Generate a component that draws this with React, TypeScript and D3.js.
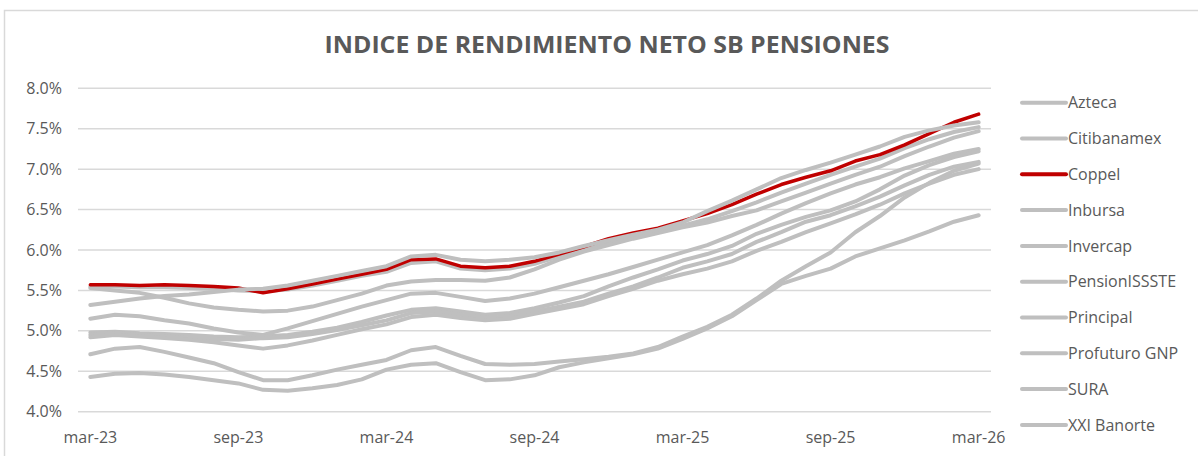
import React from 'react';
import * as d3 from 'd3';

// monthly, mar-23 .. mar-26
const months = [
  'mar-23', 'abr-23', 'may-23', 'jun-23', 'jul-23', 'ago-23', 'sep-23', 'oct-23', 'nov-23', 'dic-23', 'ene-24', 'feb-24',
  'mar-24', 'abr-24', 'may-24', 'jun-24', 'jul-24', 'ago-24', 'sep-24', 'oct-24', 'nov-24', 'dic-24', 'ene-25', 'feb-25',
  'mar-25', 'abr-25', 'may-25', 'jun-25', 'jul-25', 'ago-25', 'sep-25', 'oct-25', 'nov-25', 'dic-25', 'ene-26', 'feb-26',
  'mar-26',
];

const azteca = [5.55, 5.55, 5.54, 5.54, 5.53, 5.52, 5.50, 5.49, 5.51, 5.56, 5.62, 5.68, 5.73, 5.84, 5.86, 5.77, 5.75, 5.77, 5.83, 5.92, 6.01, 6.09, 6.17, 6.23, 6.30, 6.38, 6.48, 6.59, 6.71, 6.82, 6.93, 7.03, 7.13, 7.26, 7.37, 7.46, 7.52];
const citibanamex = [5.53, 5.50, 5.47, 5.41, 5.34, 5.29, 5.26, 5.24, 5.25, 5.30, 5.38, 5.46, 5.56, 5.61, 5.63, 5.63, 5.62, 5.66, 5.76, 5.88, 5.98, 6.06, 6.14, 6.21, 6.28, 6.34, 6.42, 6.49, 6.60, 6.71, 6.82, 6.93, 7.03, 7.16, 7.28, 7.39, 7.47];
const coppel = [5.57, 5.57, 5.56, 5.57, 5.56, 5.55, 5.53, 5.47, 5.52, 5.58, 5.64, 5.70, 5.76, 5.88, 5.89, 5.80, 5.78, 5.80, 5.86, 5.95, 6.04, 6.14, 6.21, 6.27, 6.36, 6.45, 6.56, 6.69, 6.81, 6.90, 6.98, 7.10, 7.18, 7.30, 7.44, 7.58, 7.68];
const inbursa = [5.32, 5.36, 5.40, 5.43, 5.45, 5.48, 5.51, 5.52, 5.56, 5.62, 5.68, 5.74, 5.80, 5.92, 5.94, 5.88, 5.86, 5.88, 5.91, 5.97, 6.05, 6.12, 6.19, 6.25, 6.34, 6.48, 6.61, 6.75, 6.89, 6.99, 7.08, 7.18, 7.28, 7.40, 7.48, 7.54, 7.58];
const invercap = [5.15, 5.20, 5.18, 5.13, 5.09, 5.03, 4.98, 4.95, 5.03, 5.12, 5.21, 5.30, 5.38, 5.46, 5.47, 5.42, 5.37, 5.40, 5.46, 5.54, 5.62, 5.70, 5.79, 5.88, 5.97, 6.06, 6.18, 6.31, 6.45, 6.58, 6.70, 6.81, 6.90, 7.01, 7.10, 7.19, 7.25];
const pensionIssste = [4.98, 4.99, 4.97, 4.96, 4.95, 4.93, 4.92, 4.93, 4.95, 4.99, 5.04, 5.11, 5.19, 5.26, 5.28, 5.24, 5.20, 5.22, 5.28, 5.35, 5.43, 5.55, 5.66, 5.76, 5.87, 5.95, 6.05, 6.20, 6.31, 6.41, 6.49, 6.60, 6.75, 6.92, 7.05, 7.15, 7.22];
const principal = [4.71, 4.78, 4.80, 4.74, 4.67, 4.60, 4.49, 4.39, 4.39, 4.45, 4.52, 4.58, 4.64, 4.76, 4.80, 4.69, 4.59, 4.58, 4.59, 4.62, 4.65, 4.68, 4.72, 4.80, 4.93, 5.05, 5.20, 5.40, 5.62, 5.80, 5.97, 6.22, 6.42, 6.65, 6.83, 6.98, 7.07];
const profuturo = [4.95, 4.97, 4.95, 4.93, 4.91, 4.90, 4.89, 4.91, 4.92, 4.96, 5.01, 5.07, 5.13, 5.22, 5.24, 5.20, 5.16, 5.18, 5.24, 5.30, 5.36, 5.46, 5.55, 5.66, 5.78, 5.86, 5.95, 6.10, 6.22, 6.35, 6.43, 6.54, 6.66, 6.80, 6.93, 7.03, 7.09];
const sura = [4.92, 4.95, 4.93, 4.91, 4.89, 4.86, 4.82, 4.78, 4.82, 4.88, 4.95, 5.02, 5.08, 5.17, 5.20, 5.16, 5.13, 5.15, 5.21, 5.27, 5.33, 5.43, 5.52, 5.62, 5.70, 5.77, 5.86, 5.99, 6.10, 6.22, 6.33, 6.44, 6.56, 6.70, 6.82, 6.93, 7.00];
const xxiBanorte = [4.43, 4.47, 4.48, 4.46, 4.43, 4.39, 4.35, 4.27, 4.26, 4.29, 4.33, 4.40, 4.52, 4.58, 4.60, 4.49, 4.39, 4.40, 4.45, 4.55, 4.61, 4.66, 4.71, 4.78, 4.90, 5.03, 5.18, 5.38, 5.58, 5.68, 5.77, 5.92, 6.02, 6.12, 6.23, 6.35, 6.43];

const names = ['Azteca', 'Citibanamex', 'Coppel', 'Inbursa', 'Invercap', 'PensionISSSTE', 'Principal', 'Profuturo GNP', 'SURA', 'XXI Banorte'];
const values = [azteca, citibanamex, coppel, inbursa, invercap, pensionIssste, principal, profuturo, sura, xxiBanorte];
const yTicks = [4.0, 4.5, 5.0, 5.5, 6.0, 6.5, 7.0, 7.5, 8.0];
const xLabels = ['mar-23', 'sep-23', 'mar-24', 'sep-24', 'mar-25', 'sep-25', 'mar-26'];

const W = 1198;
const H = 456;
const plot = { left: 78, right: 991, top: 88.3, bottom: 411.7 };
const textColor = '#595959';
const font = "'Open Sans', 'Noto Sans', sans-serif";

export default function App() {
  const x = d3.scalePoint<string>().domain(months).range([plot.left, plot.right]).padding(0.5);
  const y = d3.scaleLinear().domain([4, 8]).range([plot.bottom, plot.top]);
  const line = d3.line<number>()
    .x((d, i) => x(months[i]) as number)
    .y((d) => y(d));

  return (
    <svg width={W} height={H} style={{ position: 'absolute', left: 0, top: 0, display: 'block' }}>
      <rect x={0} y={0} width={W} height={H} fill="#fff" />
      <rect x={4.5} y={10.5} width={W + 20} height={H + 20} fill="none" stroke="#d9d9d9" strokeWidth={1.5} />

      <text x={607} y={53} textAnchor="middle" fontFamily={font} fontWeight="bold" fontSize={24}
        fill={textColor} textLength={565} lengthAdjust="spacingAndGlyphs">
        INDICE DE RENDIMIENTO NETO SB PENSIONES
      </text>

      {yTicks.map((t) => (
        <g key={t}>
          <line x1={plot.left} x2={plot.right} y1={y(t)} y2={y(t)} stroke="#d9d9d9" strokeWidth={1.5} />
          <text x={62} y={y(t)} dy="0.35em" textAnchor="end" fontFamily={font} fontSize={16} fill={textColor}>
            {t.toFixed(1)}%
          </text>
        </g>
      ))}

      {xLabels.map((m) => (
        <text key={m} x={x(m)} y={443} textAnchor="middle" fontFamily={font} fontSize={16} fill={textColor}>
          {m}
        </text>
      ))}

      {values.map((v, k) => (
        <path key={names[k]} d={line(v) || ''} fill="none"
          stroke={names[k] === 'Coppel' ? '#c00000' : '#bfbfbf'}
          strokeWidth={names[k] === 'Coppel' ? 3.5 : 4}
          strokeLinejoin="round" strokeLinecap="round" />
      ))}

      {names.map((n, k) => {
        const ly = 102.7 + k * 35.8;
        return (
          <g key={n}>
            <line x1={1022} x2={1066} y1={ly} y2={ly}
              stroke={n === 'Coppel' ? '#c00000' : '#bfbfbf'} strokeWidth={4} strokeLinecap="round" />
            <text x={1068} y={ly} dy="0.35em" fontFamily={font} fontSize={16} fill={textColor}>{n}</text>
          </g>
        );
      })}
    </svg>
  );
}
